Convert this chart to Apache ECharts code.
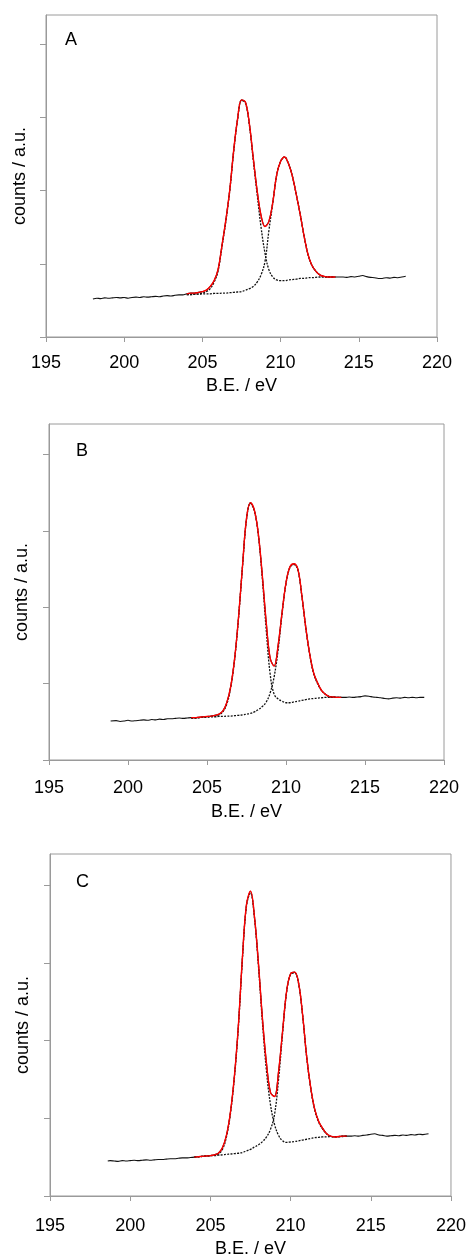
<!DOCTYPE html>
<html><head><meta charset="utf-8">
<script src="https://cdn.jsdelivr.net/npm/echarts@6/dist/echarts.min.js"></script>
<style>html,body{margin:0;padding:0;background:#fff}#c{width:469px;height:1259px}</style>
</head><body><div id="c"></div>
<script>
// ---- shared energy grid for the peak region (eV) ----
const gridE = [204.0,204.25,204.5,204.75,205.0,205.25,205.5,205.75,206.0,206.25,206.5,206.75,207.0,207.25,207.5,207.75,208.0,208.25,208.5,208.75,209.0,209.25,209.5,209.75,210.0,210.25,210.5,210.75,211.0,211.25,211.5,211.75,212.0,212.25,212.5,212.75,213.0,213.25,213.5];

// ---- Panel A ----
const A_leftX = [198.0,198.25,198.5,198.75,199.0,199.25,199.5,199.75,200.0,200.25,200.5,200.75,201.0,201.25,201.5,201.75,202.0,202.25,202.5,202.75,203.0,203.25,203.5,203.75];
const A_leftY = [0.52,0.53,0.525,0.535,0.53,0.535,0.54,0.535,0.54,0.53,0.54,0.545,0.54,0.55,0.545,0.55,0.555,0.55,0.56,0.565,0.56,0.57,0.575,0.575];
const A_rightX = [213.75,214.0,214.25,214.5,214.75,215.0,215.25,215.5,215.75,216.0,216.25,216.5,216.75,217.0,217.25,217.5,217.75,218.0];
const A_rightY = [0.82,0.82,0.815,0.825,0.82,0.83,0.84,0.825,0.815,0.81,0.80,0.80,0.81,0.805,0.815,0.81,0.82,0.83];
const A_fit = [0.59,0.60,0.60,0.61,0.62,0.64,0.69,0.77,0.92,1.25,1.60,2.01,2.55,2.98,3.24,3.21,2.92,2.45,2.00,1.66,1.51,1.58,1.84,2.22,2.40,2.46,2.37,2.20,1.95,1.68,1.38,1.13,0.98,0.90,0.85,0.83,0.82,0.82,0.82];
const A_comp1 = [0.58,0.58,0.585,0.59,0.60,0.62,0.66,0.75,0.90,1.23,1.58,2.00,2.53,2.97,3.23,3.20,2.90,2.42,1.95,1.50,1.15,0.92,0.82,0.78,0.77,0.77,0.78,0.785,0.79,0.80,0.80,0.81,0.81,0.815,0.82,0.82,0.82,0.82,0.82];
const A_comp2 = [0.58,0.58,0.585,0.585,0.59,0.59,0.59,0.595,0.595,0.60,0.60,0.605,0.61,0.615,0.62,0.64,0.66,0.69,0.75,0.85,1.03,1.45,1.83,2.21,2.40,2.46,2.37,2.20,1.95,1.68,1.38,1.13,0.98,0.90,0.85,0.83,0.82,0.82,0.82];

// ---- Panel B ----
const B_leftX = [198.9,199.25,199.5,199.75,200.0,200.25,200.5,200.75,201.0,201.25,201.5,201.75,202.0,202.25,202.5,202.75,203.0,203.25,203.5,203.75];
const B_leftY = [0.51,0.515,0.505,0.51,0.52,0.51,0.515,0.52,0.525,0.52,0.53,0.525,0.535,0.53,0.54,0.54,0.545,0.55,0.545,0.55];
const B_rightX = [213.75,214.0,214.25,214.5,214.75,215.0,215.25,215.5,215.75,216.0,216.25,216.5,216.75,217.0,217.25,217.5,217.75,218.0,218.25,218.5,218.75];
const B_rightY = [0.82,0.825,0.82,0.825,0.83,0.84,0.835,0.825,0.82,0.815,0.805,0.80,0.81,0.815,0.81,0.82,0.815,0.82,0.815,0.82,0.82];
const B_fit = [0.555,0.555,0.56,0.565,0.57,0.575,0.585,0.60,0.64,0.75,0.96,1.33,1.88,2.55,3.16,3.37,3.27,2.96,2.42,1.80,1.33,1.23,1.50,1.93,2.32,2.53,2.57,2.50,2.16,1.74,1.39,1.14,1.01,0.91,0.86,0.83,0.825,0.82,0.82];
const B_comp1 = [0.55,0.55,0.555,0.56,0.565,0.57,0.575,0.59,0.63,0.73,0.95,1.32,1.87,2.54,3.15,3.36,3.26,2.94,2.38,1.70,1.12,0.86,0.80,0.77,0.75,0.75,0.76,0.77,0.78,0.79,0.80,0.805,0.81,0.815,0.82,0.82,0.82,0.82,0.82];
const B_comp2 = [0.55,0.55,0.555,0.56,0.56,0.565,0.565,0.57,0.57,0.575,0.575,0.58,0.585,0.59,0.60,0.61,0.63,0.66,0.70,0.76,0.88,1.09,1.44,1.91,2.31,2.52,2.56,2.49,2.15,1.73,1.38,1.13,1.00,0.91,0.86,0.83,0.825,0.82,0.82];

// ---- Panel C ----
const C_leftX = [198.6,198.75,199.0,199.25,199.5,199.75,200.0,200.25,200.5,200.75,201.0,201.25,201.5,201.75,202.0,202.25,202.5,202.75,203.0,203.25,203.5,203.75];
const C_leftY = [0.45,0.455,0.45,0.445,0.455,0.45,0.455,0.46,0.455,0.46,0.465,0.46,0.465,0.47,0.47,0.475,0.48,0.48,0.485,0.49,0.49,0.495];
const C_rightX = [213.75,214.0,214.25,214.5,214.75,215.0,215.25,215.5,215.75,216.0,216.25,216.5,216.75,217.0,217.25,217.5,217.75,218.0,218.25,218.6];
const C_rightY = [0.77,0.775,0.77,0.78,0.785,0.795,0.80,0.785,0.78,0.77,0.775,0.78,0.775,0.785,0.78,0.79,0.785,0.795,0.79,0.80];
const C_fit = [0.50,0.505,0.51,0.515,0.52,0.53,0.55,0.62,0.78,1.08,1.55,2.21,3.08,3.75,3.92,3.59,2.98,2.27,1.70,1.33,1.28,1.60,2.12,2.63,2.86,2.88,2.74,2.33,1.80,1.40,1.12,0.96,0.87,0.80,0.77,0.76,0.765,0.77,0.77];
const C_comp1 = [0.50,0.505,0.51,0.515,0.52,0.525,0.54,0.60,0.76,1.06,1.53,2.19,3.06,3.73,3.90,3.57,2.95,2.22,1.60,1.17,0.92,0.78,0.71,0.69,0.695,0.70,0.71,0.72,0.73,0.74,0.75,0.755,0.76,0.76,0.765,0.765,0.765,0.77,0.77];
const C_comp2 = [0.50,0.505,0.51,0.515,0.52,0.52,0.525,0.53,0.535,0.54,0.545,0.55,0.56,0.58,0.60,0.63,0.66,0.70,0.76,0.86,1.05,1.50,2.09,2.62,2.85,2.87,2.73,2.32,1.79,1.39,1.11,0.95,0.86,0.80,0.77,0.76,0.76,0.765,0.77];

// ---- axis ticks / labels ----
const xMin = 195, xMax = 220, xStep = 5;
const yTickValues = [0,1,2,3,4];
const yMax = 4.4;
const panelLetters = ['A','B','C'];
const xTitle = 'B.E. / eV';
const yTitle = 'counts / a.u.';

const FONT = '"Liberation Sans", Arial, Helvetica, sans-serif';
const GRAY = '#9a9a9a';

function pairs(xs, ys){ return xs.map((x,i)=>[x, ys[i]]); }

const panels = [
  {leftX:A_leftX,leftY:A_leftY,rightX:A_rightX,rightY:A_rightY,fit:A_fit,c1:A_comp1,c2:A_comp2,
   grid:{left:46,top:15,width:391,height:322}, margin:17, nameGap:40, yGap:17, title:{left:65,top:31}},
  {leftX:B_leftX,leftY:B_leftY,rightX:B_rightX,rightY:B_rightY,fit:B_fit,c1:B_comp1,c2:B_comp2,
   grid:{left:49,top:424,width:395,height:336}, margin:19, nameGap:43, yGap:18, title:{left:76,top:442}},
  {leftX:C_leftX,leftY:C_leftY,rightX:C_rightX,rightY:C_rightY,fit:C_fit,c1:C_comp1,c2:C_comp2,
   grid:{left:50,top:854,width:402,height:343}, margin:21, nameGap:44, yGap:18, title:{left:76,top:873}}
];

const option = {animation:false, backgroundColor:'#fff', grid:[], xAxis:[], yAxis:[], series:[], title:[]};

panels.forEach((p,i)=>{
  option.grid.push(Object.assign({show:true, borderColor:GRAY, borderWidth:1, containLabel:false}, p.grid));
  option.title.push({text:panelLetters[i], left:p.title.left, top:p.title.top, padding:0,
    textStyle:{fontSize:18, fontWeight:'normal', color:'#000', fontFamily:FONT}});
  option.xAxis.push({gridIndex:i, type:'value', min:xMin, max:xMax, interval:xStep,
    axisLine:{show:true, onZero:false, lineStyle:{color:GRAY, width:1}},
    axisTick:{show:true, length:5, lineStyle:{color:GRAY}},
    axisLabel:{margin:p.margin, fontSize:18, color:'#000', fontFamily:FONT, showMinLabel:true, showMaxLabel:true},
    splitLine:{show:false},
    name:xTitle, nameLocation:'middle', nameGap:p.nameGap,
    nameTextStyle:{fontSize:18, color:'#000', fontFamily:FONT}});
  option.yAxis.push({gridIndex:i, type:'value', min:0, max:yMax, interval:1,
    axisLine:{show:true, onZero:false, lineStyle:{color:GRAY, width:1}},
    axisTick:{show:true, length:6, customValues:yTickValues, lineStyle:{color:GRAY}},
    axisLabel:{show:false},
    splitLine:{show:false},
    name:yTitle, nameLocation:'middle', nameGap:p.yGap, nameRotate:90,
    nameTextStyle:{fontSize:18, color:'#000', fontFamily:FONT}});
  const dataPts = pairs(p.leftX,p.leftY).concat(pairs(gridE,p.fit)).concat(pairs(p.rightX,p.rightY));
  option.series.push({type:'line', xAxisIndex:i, yAxisIndex:i, data:dataPts, showSymbol:false, smooth:0.3,
    lineStyle:{color:'#111', width:1.1}, z:2});
  option.series.push({type:'line', xAxisIndex:i, yAxisIndex:i, data:pairs(gridE,p.c1), showSymbol:false, smooth:0.4,
    lineStyle:{color:'#111', width:1.3, type:[2,1.3]}, z:3});
  option.series.push({type:'line', xAxisIndex:i, yAxisIndex:i, data:pairs(gridE,p.c2), showSymbol:false, smooth:0.4,
    lineStyle:{color:'#111', width:1.3, type:[2,1.3]}, z:3});
  option.series.push({type:'line', xAxisIndex:i, yAxisIndex:i, data:pairs(gridE,p.fit), showSymbol:false, smooth:0.4,
    lineStyle:{color:'#ff0000', width:1.4}, z:4});
});

const chart = echarts.init(document.getElementById('c'), null, {renderer:'canvas'});
chart.setOption(option);
</script></body></html>
